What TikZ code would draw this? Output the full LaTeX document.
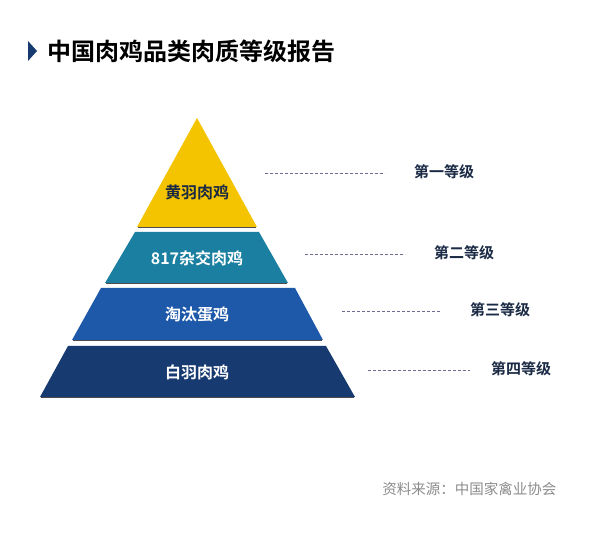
\documentclass[tikz,border=0pt]{standalone}
\usepackage{fontspec}
\setmainfont{Noto Sans CJK SC}
\newfontfamily\cjkb{Noto Sans CJK SC Bold}
\definecolor{ylw}{HTML}{F5C400}
\definecolor{teal1}{HTML}{1A7FA0}
\definecolor{blu}{HTML}{1E58A8}
\definecolor{navy}{HTML}{173A70}
\definecolor{ink}{HTML}{1A2A44}
\begin{document}
\begin{tikzpicture}[x=1pt,y=-1pt,
  tl/.style={font=\cjkb\fontsize{16}{16}\selectfont},
  lvl/.style={font=\cjkb\fontsize{15}{15}\selectfont,text=ink},
  dl/.style={draw=gray!85!blue,line width=0.6pt,dash pattern=on 3pt off 2pt}]
\useasboundingbox[fill=white] (0,0) rectangle (600,553);
\fill[navy] (28,41) -- (37,51) -- (28,61) -- cycle;
\node[anchor=west,font=\cjkb\fontsize{24}{24}\selectfont,text=black] (title) at (44,51) {中国肉鸡品类肉质等级报告};
% tiers
\fill[ylw] (197,118) -- (257,227) -- (137,227) -- cycle;
\draw[black!70,line width=1pt] (138,227.5) -- (256,227.5);
\fill[teal1] (135,232) -- (259,232) -- (288,283) -- (105,283) -- cycle;
\draw[black!70,line width=1pt] (106,283.5) -- (287,283.5);
\fill[blu] (101,288) -- (295,288) -- (323,340) -- (72,340) -- cycle;
\draw[black!70,line width=1pt] (73,340.5) -- (322,340.5);
\fill[navy] (68,346) -- (326,346) -- (355,397) -- (40,397) -- cycle;
\draw[black!70,line width=1pt] (41,397.5) -- (354,397.5);
\node[tl,text=ink] (t1) at (197,192) {黄羽肉鸡};
\node[tl,text=white] (t2) at (197,258) {817杂交肉鸡};
\node[tl,text=white] (t3) at (197,315) {淘汰蛋鸡};
\node[tl,text=white] (t4) at (197,372) {白羽肉鸡};
% labels
\node[lvl] (l1) at (444,172) {第一等级};
\node[lvl] (l2) at (464,253) {第二等级};
\node[lvl] (l3) at (500,310) {第三等级};
\node[lvl] (l4) at (521,369) {第四等级};
\coordinate (c1) at (265,173);
\coordinate (c2) at (305,254);
\coordinate (c3) at (342,311);
\coordinate (c4) at (368,370);
\draw[dl] (c1) -- (385,173);
\draw[dl] (c2) -- (405,254);
\draw[dl] (c3) -- (440,311);
\draw[dl] (c4) -- (470,370);
\node[font=\fontsize{14.5}{14.5}\selectfont,text=gray!90,anchor=east] (src) at (560,489) {资料来源：中国家禽业协会};
\end{tikzpicture}
\end{document}
